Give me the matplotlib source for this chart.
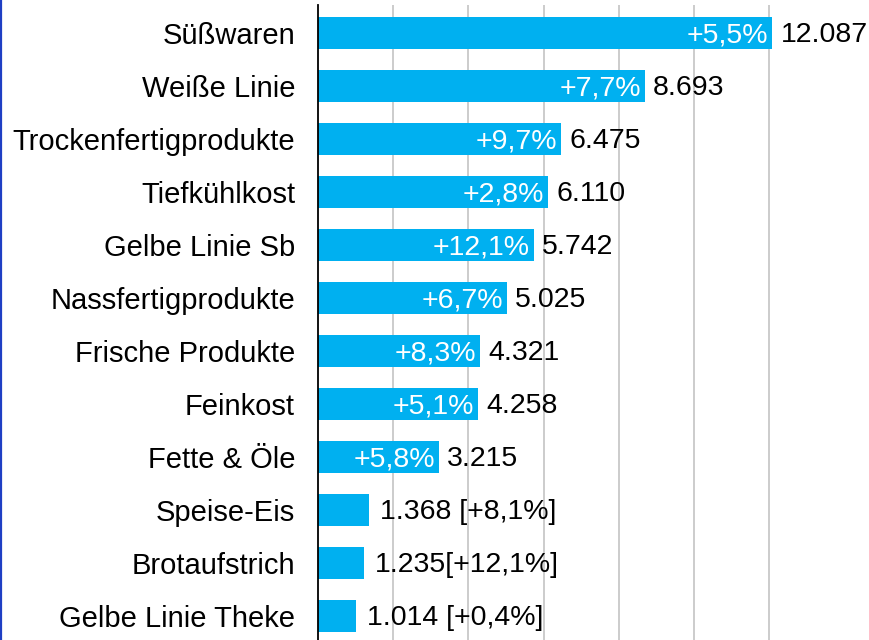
import matplotlib.pyplot as plt
from matplotlib.lines import Line2D

# values, top to bottom
categories = ["Süßwaren", "Weiße Linie", "Trockenfertigprodukte", "Tiefkühlkost",
              "Gelbe Linie Sb", "Nassfertigprodukte", "Frische Produkte", "Feinkost",
              "Fette & Öle", "Speise-Eis", "Brotaufstrich", "Gelbe Linie Theke"]
values = [12087, 8693, 6475, 6110, 5742, 5025, 4321, 4258, 3215, 1368, 1235, 1014]
changes = ["+5,5%", "+7,7%", "+9,7%", "+2,8%", "+12,1%", "+6,7%", "+8,3%",
           "+5,1%", "+5,8%", "+8,1%", "+12,1%", "+0,4%"]
# small bars get the change in brackets after the value
bracket_sep = {"Speise-Eis": " ", "Brotaufstrich": "", "Gelbe Linie Theke": " "}

plt.rcParams["font.family"] = ["Liberation Sans", "DejaVu Sans"]
FS = 20.5
BLUE = "#00b0f0"

fig = plt.figure(figsize=(8.7, 6.4), dpi=100)
ax = fig.add_axes([318 / 870, 0.0, 470 / 870, 1 - 5 / 640])

y = list(range(len(categories)))
ax.barh(y, values, height=0.6, color=BLUE, zorder=3)

ax.set_xlim(0, 12500)
ax.set_ylim(11.45, -0.528)
ax.set_xticks(range(2000, 12001, 2000))
ax.grid(axis="x", color="#c4c4c4", linewidth=1.2, zorder=0)
ax.tick_params(axis="x", bottom=False, labelbottom=False)
ax.tick_params(axis="y", left=False, pad=13, labelsize=21)
ax.set_yticks(y)
ax.set_yticklabels(categories)

for s in ["top", "right", "bottom"]:
    ax.spines[s].set_visible(False)
ax.spines["left"].set_color("black")
ax.spines["left"].set_linewidth(1.3)
ax.spines["left"].set_zorder(4)

for i, (cat, v, c) in enumerate(zip(categories, values, changes)):
    num = f"{v:,}".replace(",", ".")
    if cat in bracket_sep:
        txt = num + bracket_sep[cat] + "[" + c + "]"
        ax.annotate(txt, (v, i), xytext=(7.5, -1.5), textcoords="offset points",
                    va="center", ha="left", fontsize=FS, color="black",
                    annotation_clip=False)
    else:
        ax.annotate(c, (v, i), xytext=(-3, -1.5), textcoords="offset points",
                    va="center", ha="right", fontsize=FS, color="white", zorder=5)
        ax.annotate(num, (v, i), xytext=(6, -1.5), textcoords="offset points",
                    va="center", ha="left", fontsize=FS, color="black",
                    annotation_clip=False)

# thin blue frame line on the left edge
fig.add_artist(Line2D([0.001, 0.001], [0, 1], transform=fig.transFigure,
                      color="#1f3fc4", linewidth=1.6))

fig.savefig("out.png", dpi=100)
